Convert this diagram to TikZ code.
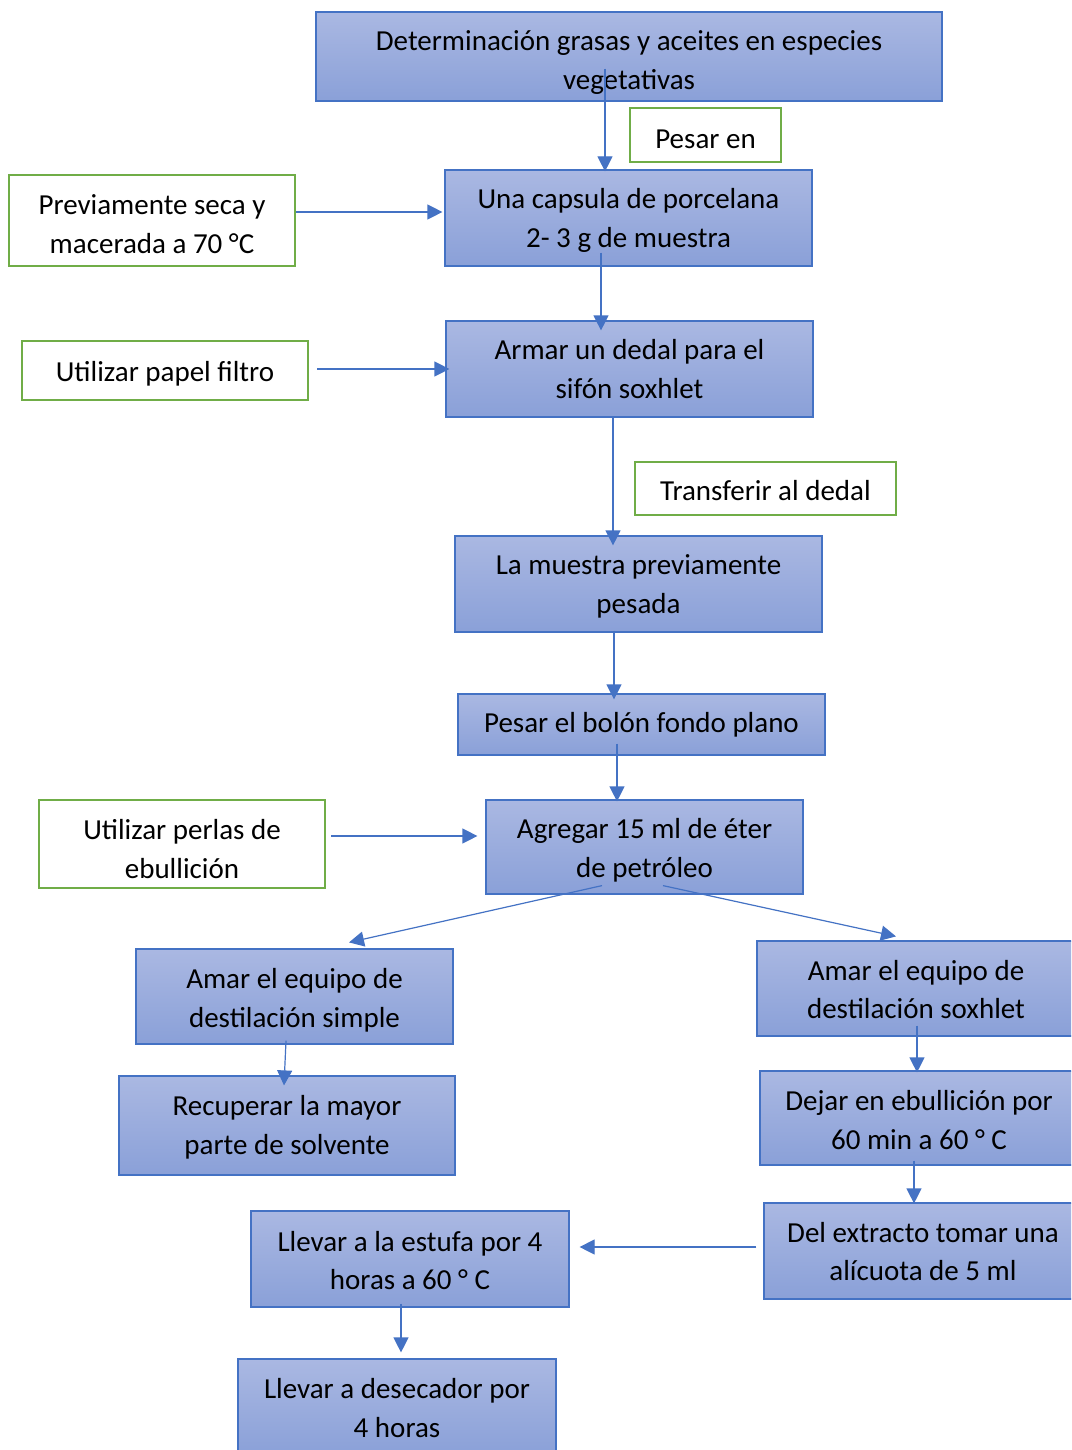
\documentclass[tikz,border=0pt]{standalone}
\usepackage{fontspec}
\setmainfont{Carlito}
\usetikzlibrary{arrows.meta,calc}
\definecolor{boxline}{RGB}{68,114,196}
\definecolor{boxtop}{RGB}{170,184,226}
\definecolor{boxbot}{RGB}{138,160,216}
\definecolor{notegreen}{RGB}{112,173,71}
% box (name, x, y, width, height, text offset, text)
\newcommand\flowstep[7]{%
  \node[stepbox, minimum width=#4, minimum height=#5] (#1) at (#2,#3) {};
  \node[txt] (#1-t) at (#2,#3+#6) {#7};}
\newcommand\flownote[7]{%
  \node[notebox, minimum width=#4, minimum height=#5] (#1) at (#2,#3) {};
  \node[txt] (#1-t) at (#2,#3+#6) {#7};}
\begin{document}
\begin{tikzpicture}[x=1pt,y=-1pt,
  txt/.style={align=center, inner sep=0pt, text=black,
    font=\fontsize{29}{38.6}\selectfont},
  stepbox/.style={draw=boxline, line width=1.2pt, inner sep=0pt,
    top color=boxtop, bottom color=boxbot},
  notebox/.style={draw=notegreen, line width=2.8pt, inner sep=0pt, fill=white},
  flow/.style={draw=boxline, line width=1.2pt,
    -{Triangle[length=15pt,width=15pt]}}]

\useasboundingbox (0,0) rectangle (1071,1450);
\fill[white] (0,0) rectangle (1071,1450);
\clip (0,0) rectangle (1071,1450);

% main sequence
\flowstep{top}{629}{56.5}{626}{89}{6}
  {Determinación grasas y aceites en especies\\vegetativas}
\flowstep{una}{628.5}{218}{367}{96}{2.5}
  {Una capsula de porcelana\\2- 3 g de muestra}
\flowstep{dedal}{629.5}{369}{367}{96}{0}
  {Armar un dedal para el\\sifón soxhlet}
\flowstep{muestra}{638.5}{584}{367}{96}{2.5}
  {La muestra previamente\\pesada}
\flowstep{bolon}{641.5}{724.5}{367}{61}{0}
  {Pesar el bolón fondo plano}
\flowstep{agregar}{644.5}{847}{317}{94}{3.5}
  {Agregar 15 ml de éter\\de petróleo}

% left branch
\flowstep{simple}{294.5}{996.5}{317}{95}{4}
  {Amar el equipo de\\destilación simple}
\flowstep{recup}{287}{1125.5}{336}{99}{1.5}
  {Recuperar la mayor\\parte de solvente}

% right branch
\flowstep{soxh}{916}{988.5}{318}{95}{1}
  {Amar el equipo de\\destilación soxhlet}
\flowstep{dejar}{919}{1118}{318}{94}{2}
  {Dejar en ebullición por\\60 min a 60 ° C}
\flowstep{extracto}{923}{1251}{318}{96}{0.5}
  {Del extracto tomar una\\alícuota de 5 ml}
\flowstep{estufa}{410}{1259}{318}{96}{1.5}
  {Llevar a la estufa por 4\\horas a 60 ° C}
\flowstep{deseca}{397}{1407}{318}{96}{1}
  {Llevar a desecador por\\4 horas}

% side notes
\flownote{pesaren}{705.5}{135}{151}{54}{4}{Pesar en}
\flownote{prev}{152}{220.5}{286}{91}{3.5}
  {Previamente seca y\\macerada a 70 °C}
\flownote{papel}{165}{370.5}{286}{59}{3}{Utilizar papel filtro}
\flownote{transf}{765.5}{488.5}{261}{53}{2}{Transferir al dedal}
\flownote{perlas}{182}{844}{286}{88}{5}
  {Utilizar perlas de\\ebullición}

% connectors
\draw[flow] ($(top.south)+(-24,-33)$) coordinate (a0)
  -- ($(a0 |- una.north)+(0,2)$);
\draw[flow] ($(prev.east)+(0,-8.5)$) coordinate (b0)
  -- ($(b0 -| una.west)+(-2,0)$);
\draw[flow] ($(una.south)+(-27.5,-14)$) coordinate (c0)
  -- ($(c0 |- dedal.north)+(0,10)$);
\draw[flow] ($(papel.east)+(8,-1.5)$) coordinate (d0)
  -- ($(d0 -| dedal.west)+(4,0)$);
\draw[flow] ($(dedal.south)+(-16.5,0)$) coordinate (e0)
  -- ($(e0 |- muestra.north)+(0,10)$);
\draw[flow] ($(muestra.south)+(-24.5,-2)$) coordinate (f0)
  -- ($(f0 |- bolon.north)+(0,6)$);
\draw[flow] ($(bolon.south)+(-24.5,-12)$) coordinate (g0)
  -- ($(g0 |- agregar.north)+(0,2)$);
\draw[flow] ($(perlas.east)+(5,-8)$) coordinate (h0)
  -- ($(h0 -| agregar.west)+(-8,0)$);
\draw[flow] ($(agregar.south)+(-42.5,-9)$) -- ($(simple.north)+(54.5,-6)$);
\draw[flow] ($(agregar.south)+(18.5,-9)$) -- ($(soxh.north)+(-20,-4)$);
\draw[flow] ($(simple.south)+(-8.5,-4)$) -- ($(recup.north)+(-3,10)$);
\draw[flow] ($(soxh.south)+(1,-11)$) -- ($(dejar.north)+(-2,2)$);
\draw[flow] ($(dejar.south)+(-5,-5)$) -- ($(extracto.north)+(-9,1)$);
\draw[flow] ($(extracto.west)+(-7,-4)$) -- ($(estufa.east)+(10,-12)$);
\draw[flow] ($(estufa.south)+(-9,-4)$) -- ($(deseca.north)+(4,-6)$);
\end{tikzpicture}
\end{document}
